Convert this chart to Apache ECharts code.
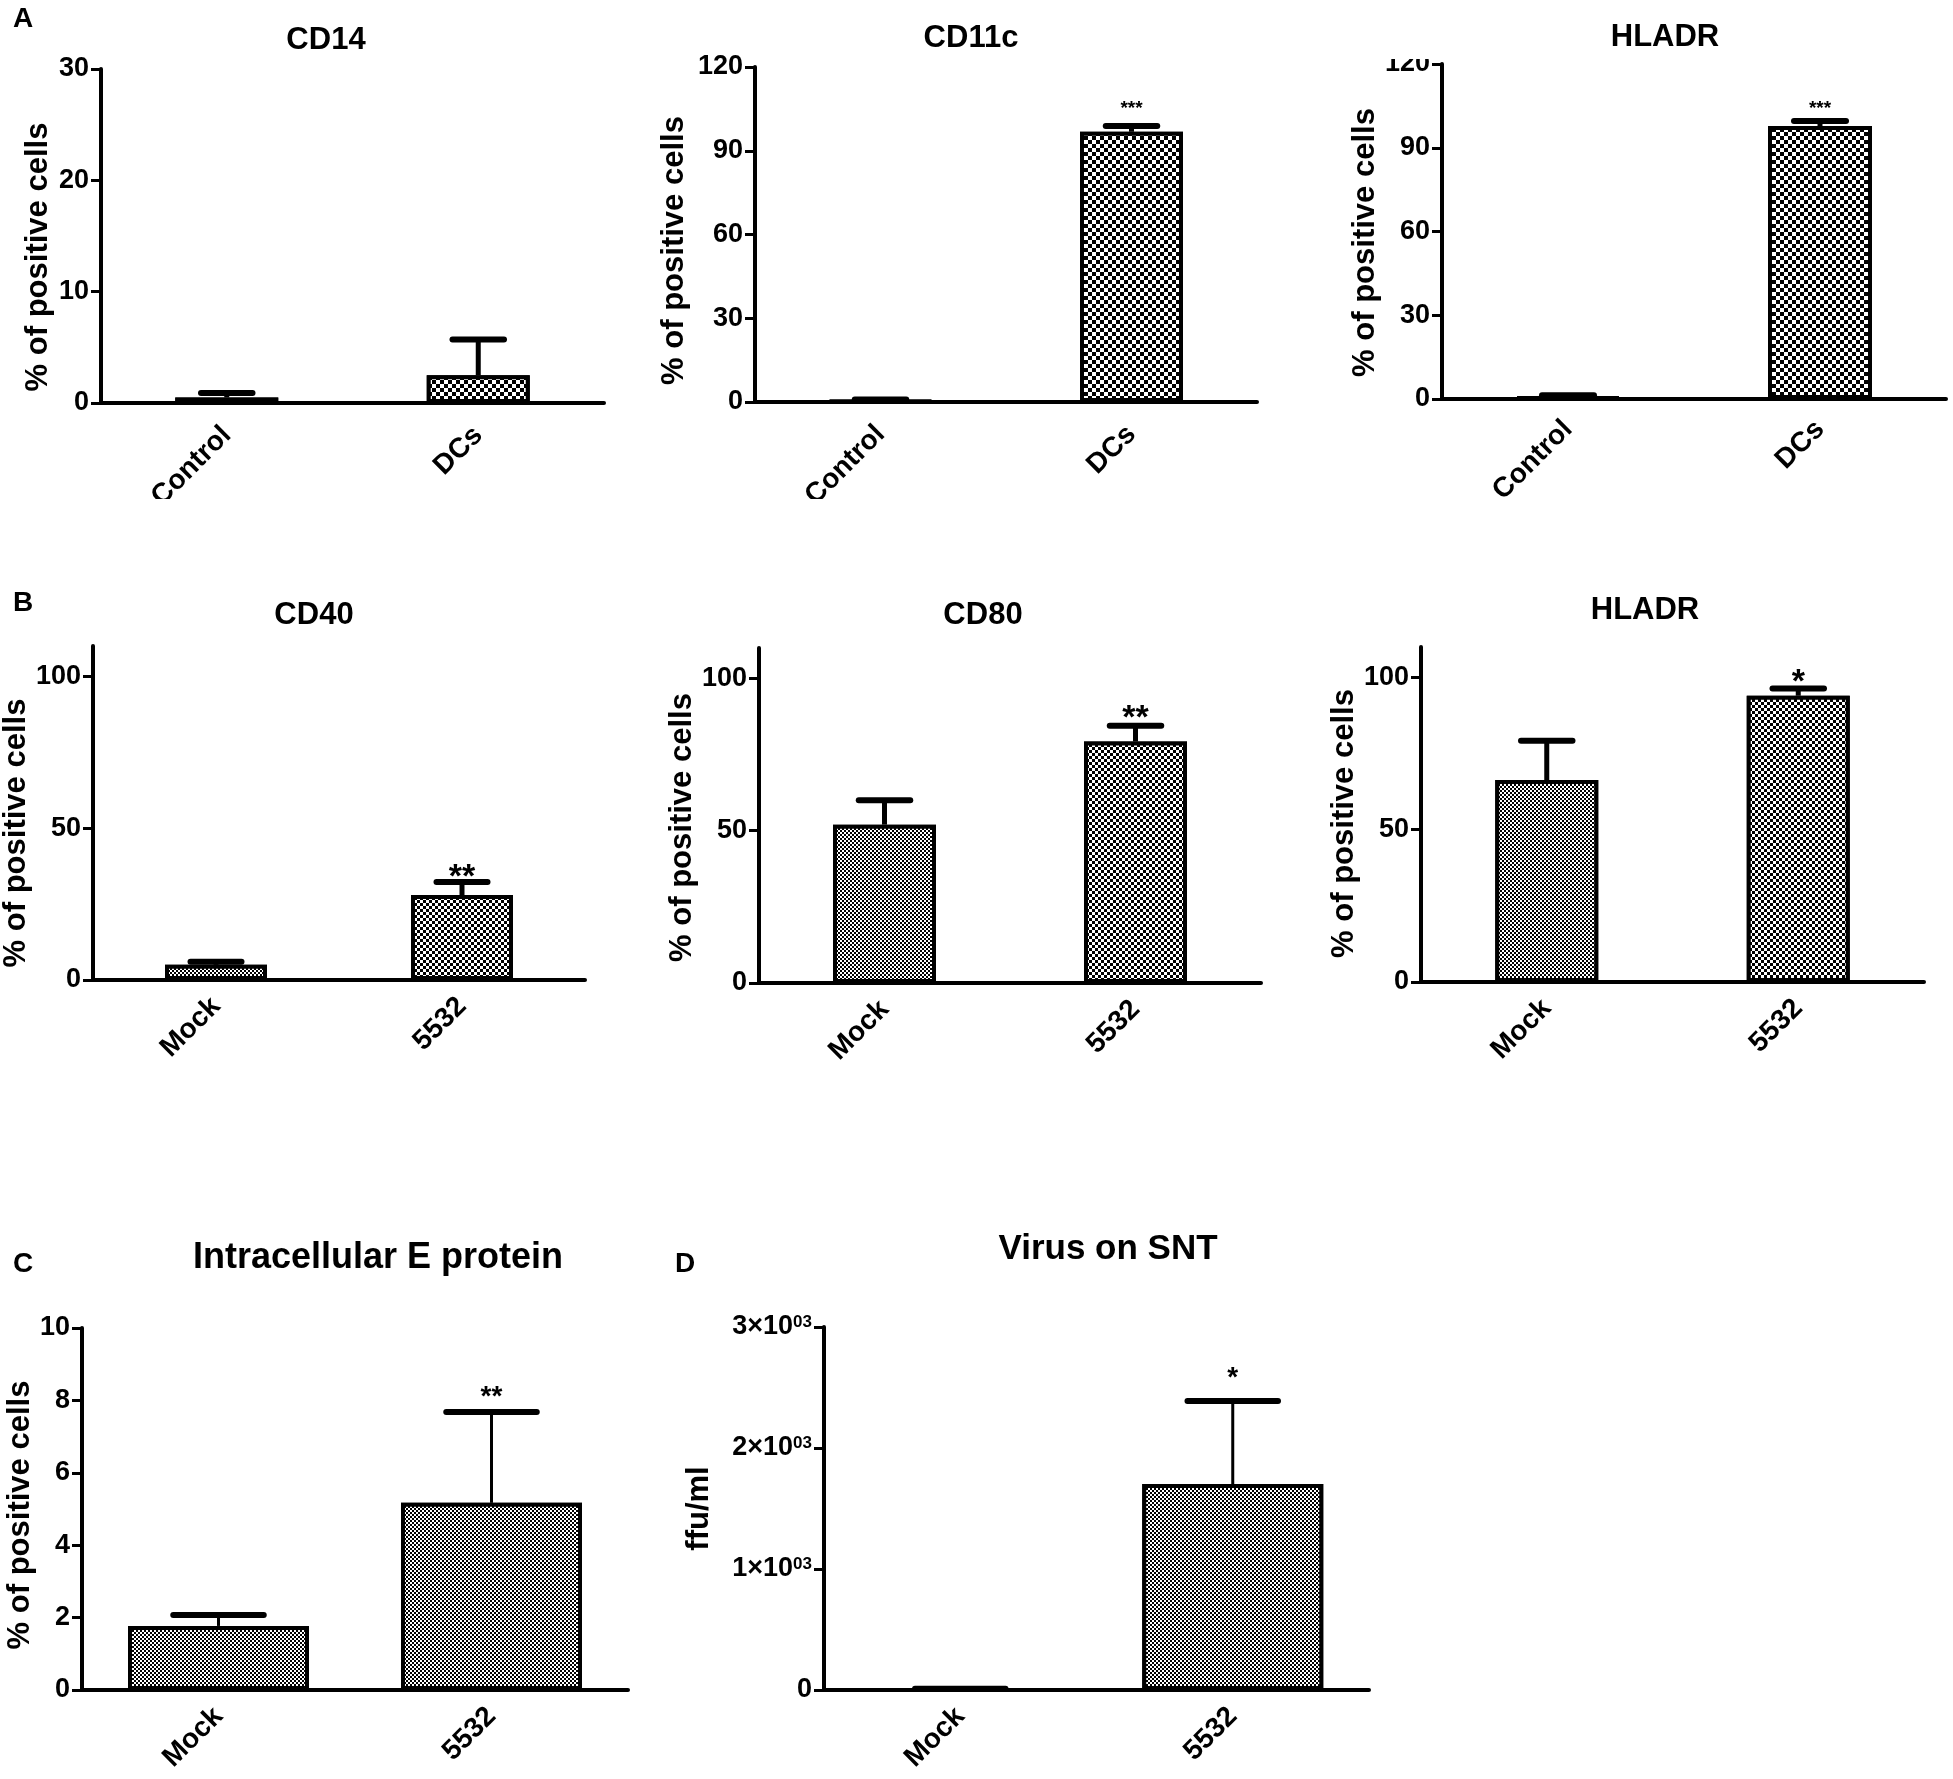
<!DOCTYPE html>
<html>
<head>
<meta charset="utf-8">
<script src="https://cdn.jsdelivr.net/npm/echarts@6/dist/echarts.min.js"></script>
<style>
html, body { margin: 0; padding: 0; background: #fff; }
#main { width: 1953px; height: 1779px; }
</style>
</head>
<body>
<div id="main"></div>
<script>
// categories
var catsA = ['Control', 'DCs'];
var catsB = ['Mock', '5532'];

// means and top of error bar (mean + SEM)
var cd14 = [0.5, 2.5];
var cd14Err = [0.9, 5.7];
var cd11c = [0.4, 96.8];
var cd11cErr = [0.9, 98.9];
var hladrA = [0.8, 97.8];
var hladrAErr = [1.3, 99.6];
var cd40 = [5, 28];
var cd40Err = [6, 32.3];
var cd80 = [52, 79.3];
var cd80Err = [60, 84.5];
var hladrB = [66.3, 94];
var hladrBErr = [79.2, 96.4];
var eProtein = [1.77, 5.17];
var eProteinErr = [2.07, 7.68];
var virus = [0, 1702];
var virusErr = [10, 2388];

// significance marks
var starsCd14 = ['', ''];
var starsCd11c = ['', '***'];
var starsHladrA = ['', '***'];
var starsCd40 = ['', '**'];
var starsCd80 = ['', '**'];
var starsHladrB = ['', '*'];
var starsEProtein = ['', '**'];
var starsVirus = ['', '*'];

// tick values
var ticksCd14 = [0, 10, 20, 30];
var ticksA = [0, 30, 60, 90, 120];
var ticksB = [0, 50, 100];
var ticksC = [0, 2, 4, 6, 8, 10];
var ticksD = [0, 1000, 2000, 3000];

var FONT = '"Liberation Sans", Arial, sans-serif';

function checker(s) {
	return {
		symbol: 'rect',
		symbolSize: 1,
		color: '#000',
		backgroundColor: '#fff',
		dashArrayX: [[s, s], [0, s, s, 0]],
		dashArrayY: [s, 0]
	};
}

var panels = [
	{ cats: catsA, vals: cd14, errs: cd14Err, stars: starsCd14, ticks: ticksCd14, max: 30,
		grid: [101, 69, 503, 334], barW: 103, cells: [2, 4], name: '% of positive cells', gap: 47, shift: 21,
		starFont: 19, starGap: 8, lw: 5, labMargin: 28 },
	{ cats: catsA, vals: cd11c, errs: cd11cErr, stars: starsCd11c, ticks: ticksA, max: 120,
		grid: [755, 67, 502, 335], barW: 103, cells: [2, 4], name: '% of positive cells', gap: 65, shift: 16,
		starFont: 19, starGap: 8, lw: 5, labMargin: 28 },
	{ cats: catsA, vals: hladrA, errs: hladrAErr, stars: starsHladrA, ticks: ticksA, max: 120,
		grid: [1442, 64, 504, 335], barW: 104, cells: [2, 4], name: '% of positive cells', gap: 59, shift: 11,
		starFont: 19, starGap: 3, lw: 5, labMargin: 26 },
	{ cats: catsB, vals: cd40, errs: cd40Err, stars: starsCd40, ticks: ticksB, max: 110,
		grid: [88, 646, 497, 334], barW: 102, cells: [2, 3], name: '% of positive cells', gap: 61, shift: 20,
		starFont: 34, starGap: -13, lw: 5, labMargin: 22 },
	{ cats: catsB, vals: cd80, errs: cd80Err, stars: starsCd80, ticks: ticksB, max: 110,
		grid: [759, 648, 502, 335], barW: 103, cells: [2, 3], name: '% of positive cells', gap: 57, shift: 12,
		starFont: 34, starGap: -10, lw: 5, labMargin: 22 },
	{ cats: catsB, vals: hladrB, errs: hladrBErr, stars: starsHladrB, ticks: ticksB, max: 110,
		grid: [1421, 647, 503, 335], barW: 103, cells: [2, 3], name: '% of positive cells', gap: 57, shift: 9,
		starFont: 34, starGap: -11, lw: 5, labMargin: 22 },
	{ cats: catsB, vals: eProtein, errs: eProteinErr, stars: starsEProtein, ticks: ticksC, max: 10,
		grid: [82, 1328, 546, 362], barW: 181, cells: [2, 2], name: '% of positive cells', gap: 43, shift: 6,
		starFont: 28, starGap: 1, lw: 3, labMargin: 22 },
	{ cats: catsB, vals: virus, errs: virusErr, stars: starsVirus, ticks: ticksD, max: 3000,
		grid: [824, 1327, 545, 363], barW: 181, cells: [2, 2], name: 'ffu/ml', gap: 109, shift: 0,
		starFont: 28, starGap: 9, lw: 3, labMargin: 22 }
];

var titles = [
	['CD14', 326, 40, 31], ['CD11c', 971, 38, 31], ['HLADR', 1665, 37, 31],
	['CD40', 314, 615, 31], ['CD80', 983, 615, 31], ['HLADR', 1645, 610, 31],
	['Intracellular E protein', 378, 1258, 36], ['Virus on SNT', 1108, 1249, 35],
	['A', 23, 19, 28], ['B', 23, 603, 28], ['C', 23, 1264, 28], ['D', 685, 1264, 28]
];

var graphics = titles.map(function(t) {
	return {
		type: 'text', x: t[1], y: t[2],
		style: { text: t[0], font: 'bold ' + t[3] + 'px ' + FONT, fill: '#000',
			textAlign: 'center', textVerticalAlign: 'middle' }
	};
});
// the original panels are cropped: bottom of row A labels, top of the HLADR "120"
graphics.push({ type: 'rect', z: 100, shape: { x: 0, y: 499, width: 1400, height: 40 }, style: { fill: '#fff' } });
graphics.push({ type: 'rect', z: 100, shape: { x: 1370, y: 40, width: 66, height: 19 }, style: { fill: '#fff' } });

var option = {
	animation: false,
	backgroundColor: '#fff',
	grid: [], xAxis: [], yAxis: [], series: [],
	graphic: graphics
};

panels.forEach(function(p, i) {
	option.grid.push({ left: p.grid[0], top: p.grid[1], width: p.grid[2], height: p.grid[3] });
	option.xAxis.push({
		type: 'category', gridIndex: i, data: p.cats,
		axisLine: { lineStyle: { color: '#000', width: 4 } },
		axisTick: { alignWithLabel: true, length: 12, lineStyle: { color: '#000', width: 3 } },
		axisLabel: { rotate: 45, margin: p.labMargin, color: '#000', fontFamily: FONT, fontWeight: 'bold', fontSize: 28 }
	});
	var isVirus = p.max === 3000;
	option.yAxis.push({
		type: 'value', gridIndex: i, min: 0, max: p.max,
		name: p.name, nameLocation: 'middle', nameGap: p.gap,
		nameTextStyle: { color: '#000', fontFamily: FONT, fontWeight: 'bold', fontSize: 31,
			padding: [0, 2 * p.shift, 0, 0] },
		splitLine: { show: false },
		axisLine: { show: true, lineStyle: { color: '#000', width: 4 } },
		axisTick: { show: true, length: 10, customValues: p.ticks, lineStyle: { color: '#000', width: 3 } },
		axisLabel: {
			customValues: p.ticks, margin: 12, color: '#000', fontFamily: FONT, fontWeight: 'bold', fontSize: 27,
			formatter: isVirus ? function(v) { return v === 0 ? '0' : (v / 1000) + '\u00d710{sup|03}'; } : null,
			rich: { sup: { fontSize: 17, fontWeight: 'bold', fontFamily: FONT, color: '#000', verticalAlign: 'top', lineHeight: 16 } }
		}
	});
	option.series.push({
		type: 'bar', xAxisIndex: i, yAxisIndex: i, barWidth: p.barW,
		data: p.vals.map(function(v, j) {
			return { value: v, itemStyle: { decal: checker(p.cells[j]) } };
		}),
		itemStyle: { color: '#fff', borderColor: '#000', borderWidth: 4 }
	});
	option.series.push({
		type: 'custom', xAxisIndex: i, yAxisIndex: i, z: 5,
		data: p.vals.map(function(v, j) { return [j, v, p.errs[j]]; }),
		renderItem: function(params, api) {
			var top = api.coord([api.value(0), api.value(2)]);
			var bot = api.coord([api.value(0), api.value(1)]);
			var half = p.barW / 4;
			var kids = [
				{ type: 'line', shape: { x1: top[0], y1: bot[1], x2: top[0], y2: top[1] },
					style: { stroke: '#000', lineWidth: p.lw } },
				{ type: 'line', shape: { x1: top[0] - half, y1: top[1], x2: top[0] + half, y2: top[1] },
					style: { stroke: '#000', lineWidth: 6, lineCap: 'round' } }
			];
			var s = p.stars[params.dataIndex];
			if (s) {
				kids.push({ type: 'text', x: top[0], y: top[1] - p.starGap,
					style: { text: s, font: 'bold ' + p.starFont + 'px ' + FONT, fill: '#000',
						textAlign: 'center', textVerticalAlign: 'bottom' } });
			}
			return { type: 'group', children: kids };
		}
	});
});

var myChart = echarts.init(document.getElementById('main'));
myChart.setOption(option);
</script>
</body>
</html>
